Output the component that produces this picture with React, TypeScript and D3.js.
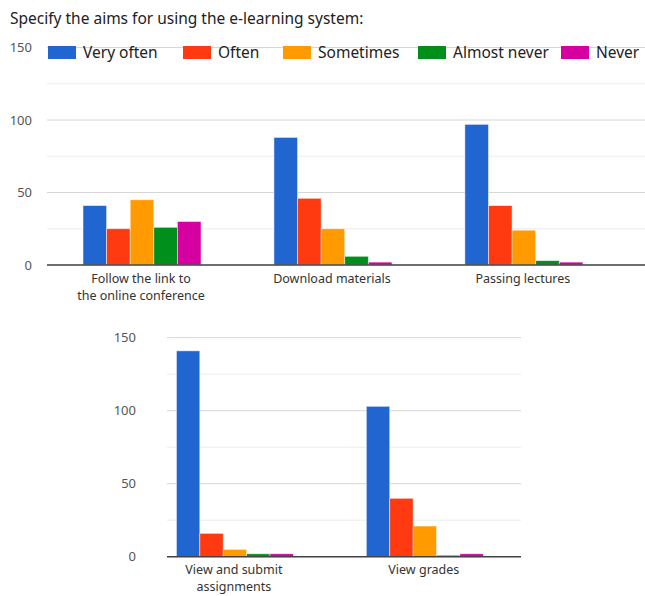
import React from 'react';
import * as d3 from 'd3';

const width = 645;
const height = 596;

const title = 'Specify the aims for using the e-learning system:';

const series = ['Very often', 'Often', 'Sometimes', 'Almost never', 'Never'];
const colors = ['#2166d0', '#ff3a10', '#ff9a00', '#008f1a', '#d400a0'];
const legendX = [48, 183, 283, 418, 561];

// first chart
const topCategories = ['Follow the link to|the online conference', 'Download materials', 'Passing lectures'];
const topValues = [
  [41, 25, 45, 26, 30],
  [88, 46, 25, 6, 2],
  [97, 41, 24, 3, 2],
];

// second chart
const bottomCategories = ['View and submit|assignments', 'View grades'];
const bottomValues = [
  [141, 16, 5, 2, 2],
  [103, 40, 21, 1, 2],
];

const yTicks = [0, 25, 50, 75, 100, 125, 150];
const font = "'Segoe UI', 'Noto Sans', sans-serif";

type ChartProps = {
  categories: string[];
  values: number[][];
  x0: number;
  x1: number;
  yTop: number;
  yBase: number;
  labelX: number;
  padInner: number;
  padOuter: number;
  align: number;
  labelY: number;
};

const BarGroup: React.FC<ChartProps> = ({
  categories, values, x0, x1, yTop, yBase, labelX, padInner, padOuter, align, labelY,
}) => {
  const y = d3.scaleLinear().domain([0, 150]).range([yBase, yTop]);
  const x = d3
    .scaleBand<string>()
    .domain(categories)
    .range([x0, x1])
    .paddingInner(padInner)
    .paddingOuter(padOuter)
    .align(align);
  const xs = d3.scaleBand<string>().domain(series).range([0, x.bandwidth()]).padding(0);

  return (
    <g>
      {yTicks.map(t => (
        <line
          key={'g' + t}
          x1={x0}
          x2={x1}
          y1={y(t)}
          y2={y(t)}
          stroke={t % 50 === 0 ? '#d6d6d6' : '#ececec'}
          strokeWidth={1}
        />
      ))}
      {yTicks
        .filter(t => t % 50 === 0)
        .map(t => (
          <text
            key={'t' + t}
            x={labelX}
            y={y(t)}
            dy="0.35em"
            textAnchor="end"
            fontSize={13}
            fill="#555"
            fontFamily={font}
          >
            {t}
          </text>
        ))}
      {categories.map((c, i) => (
        <g key={c} transform={`translate(${x(c)},0)`}>
          {values[i].map((v, j) => (
            <rect
              key={series[j]}
              x={xs(series[j])}
              y={y(v)}
              width={xs.bandwidth()}
              height={yBase - y(v)}
              fill={colors[j]}
              stroke="#fff"
              strokeOpacity={0.6}
              strokeWidth={0.8}
            />
          ))}
          {c.split('|').map((line, k) => (
            <text
              key={line}
              x={x.bandwidth() / 2 - 1}
              y={labelY + k * 17}
              textAnchor="middle"
              fontSize={12.5}
              fill="#333"
              fontFamily={font}
            >
              {line}
            </text>
          ))}
        </g>
      ))}
      <line x1={x0} x2={x1} y1={yBase} y2={yBase} stroke="#444" strokeWidth={1.5} />
    </g>
  );
};

const App: React.FC = () => {
  return (
    <svg
      width={width}
      height={height}
      style={{ position: 'absolute', top: 0, left: 0, background: '#fff' }}
    >
      <text x={10} y={24} fontSize={15.5} fill="#222" fontFamily={font}>
        {title}
      </text>
      <BarGroup
        categories={topCategories}
        values={topValues}
        x0={47}
        x1={645}
        yTop={47.5}
        yBase={265}
        labelX={32}
        padInner={0.382}
        padOuter={0.257}
        align={0.367}
        labelY={283}
      />
      <BarGroup
        categories={bottomCategories}
        values={bottomValues}
        x0={167}
        x1={521}
        yTop={337.7}
        yBase={556.7}
        labelX={136}
        padInner={0.384}
        padOuter={0.124}
        align={0.2}
        labelY={574}
      />
      {/* legend sits on top of the first chart */}
      {series.map((s, i) => (
        <g key={s}>
          <rect x={legendX[i]} y={46} width={28} height={13} fill={colors[i]} />
          <text x={legendX[i] + 35} y={58} fontSize={15.5} fill="#222" fontFamily={font}>
            {s}
          </text>
        </g>
      ))}
    </svg>
  );
};

export default App;
